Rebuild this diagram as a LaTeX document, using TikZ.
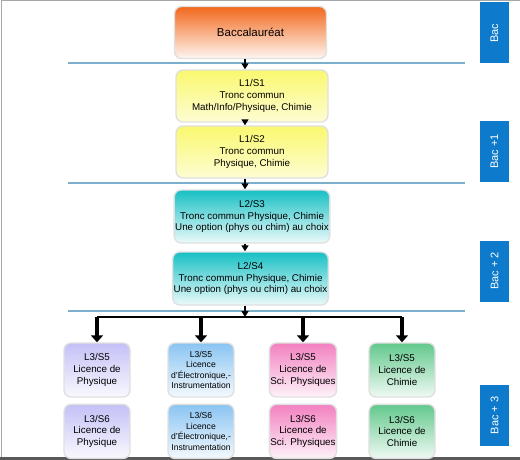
\documentclass[tikz,border=0pt]{standalone}
\usepackage{fontspec}
\setmainfont{Liberation Sans}
\usetikzlibrary{arrows.meta,positioning}
\definecolor{bacorange}{RGB}{242,104,28}
\definecolor{bacyellow}{RGB}{250,248,110}
\definecolor{baccyan}{RGB}{22,192,196}
\definecolor{baclilac}{RGB}{196,192,246}
\definecolor{bacsky}{RGB}{138,196,242}
\definecolor{bacpink}{RGB}{242,128,192}
\definecolor{bacgreen}{RGB}{98,200,140}
\definecolor{yearblue}{RGB}{14,122,204}
\definecolor{sepblue}{RGB}{122,176,204}

\begin{document}
\begin{tikzpicture}[x=1pt,y=-1pt,>={Triangle[width=7pt,length=6pt]}]
  \tikzstyle{level}=[rectangle,rounded corners=7pt,draw=black!12,line width=1.4pt,
  		     align=center,inner sep=1pt,minimum width=152pt,minimum height=52pt,
  		     font=\fontsize{9.8}{11.7}\selectfont]
  \tikzstyle{orange level}=[level,top color=bacorange,bottom color=bacorange!6,
  			    font=\fontsize{11.5}{13}\selectfont]
  \tikzstyle{yellow level}=[level,top color=bacyellow,bottom color=bacyellow!30]
  \tikzstyle{cyan level}=[level,top color=baccyan,bottom color=baccyan!8,minimum height=53pt]
  \tikzstyle{licence}=[level,minimum width=66pt,minimum height=54pt]
  \tikzstyle{year}=[rectangle,fill=yearblue,text=white,rotate=90,inner sep=0pt,
  		    minimum width=61pt,minimum height=29pt,font=\fontsize{11}{13}\selectfont]
  \tikzstyle{sep}=[draw=sepblue,line width=1.3pt]
  \tikzstyle{pre}=[->,line width=2.2pt]
  \tikzstyle{big pre}=[-{Triangle[width=12pt,length=7pt]},line width=3.8pt]
  \useasboundingbox (0,0) rectangle (520,460);
  % frame
  \draw[black!35,line width=1pt] (520,1) -- (1,1) -- (1,458);
  \draw[black!65,line width=2.5pt] (0,458.5) -- (520,458.5);
  % year separators
  \foreach \y in {63,183,311}
    \draw[sep] (68,\y) -- (465,\y);
  % years
  \node [year] (y0) at (494.5,33) {Bac};
  \node [year] (y1) at (494.5,151.5) {Bac +1};
  \node [year] (y2) at (494.5,271) {Bac + 2};
  \node [year] (y3) at (494.5,415.5) {Bac + 3};
  % trunk
  \node [orange level] (bac) at (250.5,32.5) {Baccalauréat};
  \node [yellow level] (s1) at (252,96) {L1/S1\\Tronc commun\\Math/Info/Physique, Chimie};
  \node [yellow level] (s2) at (252,152) {L1/S2\\Tronc commun\\Physique, Chimie};
  \node [cyan level] (s3) at (252,216.5) {L2/S3\\Tronc commun Physique, Chimie\\Une option (phys ou chim) au choix};
  \node [cyan level] (s4) at (250.5,278.5) {L2/S4\\Tronc commun Physique, Chimie\\Une option (phys ou chim) au choix};
  \coordinate (axis) at (245,0);
  \coordinate (split) at (245,317);
  \draw[pre] (bac.south -| axis) -- (s1.north -| axis);
  \draw[pre] (s1.south -| axis) -- (s2.north -| axis);
  \draw[pre] (s2.south -| axis) -- (s3.north -| axis);
  \draw[pre] (s3.south -| axis) -- (s4.north -| axis);
  \draw[->,line width=1.6pt] (s4.south -| axis) -- (split);
  % licences
  \node [licence,top color=baclilac,bottom color=baclilac!10] (p5) at (97,370) {L3/S5\\Licence de\\Physique};
  \node [licence,top color=baclilac,bottom color=baclilac!10] (p6) [below=6pt of p5] {L3/S6\\Licence de\\Physique};
  \node [licence,top color=bacsky,bottom color=bacsky!10,font=\fontsize{8.6}{10.5}\selectfont] (e5) at (201,370) {L3/S5\\Licence\\d'Électronique,-\\Instrumentation};
  \node [licence,top color=bacsky,bottom color=bacsky!10,font=\fontsize{8.6}{10.5}\selectfont] (e6) [below=6pt of e5] {L3/S6\\Licence\\d'Électronique,-\\Instrumentation};
  \node [licence,top color=bacpink,bottom color=bacpink!10] (sp5) at (303,370) {L3/S5\\Licence de\\Sci. Physiques};
  \node [licence,top color=bacpink,bottom color=bacpink!10] (sp6) [below=6pt of sp5] {L3/S6\\Licence de\\Sci. Physiques};
  \node [licence,top color=bacgreen,bottom color=bacgreen!10] (c5) at (402,370) {L3/S5\\Licence de\\Chimie};
  \node [licence,top color=bacgreen,bottom color=bacgreen!10] (c6) [below=6pt of c5] {L3/S6\\Licence de\\Chimie};
  \draw[line width=1.2pt] (p5.north |- split) -- (c5.north |- split);
  \foreach \b in {p5,e5,sp5,c5}
    \draw[big pre] (\b.north |- split) -- (\b.north);
\end{tikzpicture}
\end{document}
